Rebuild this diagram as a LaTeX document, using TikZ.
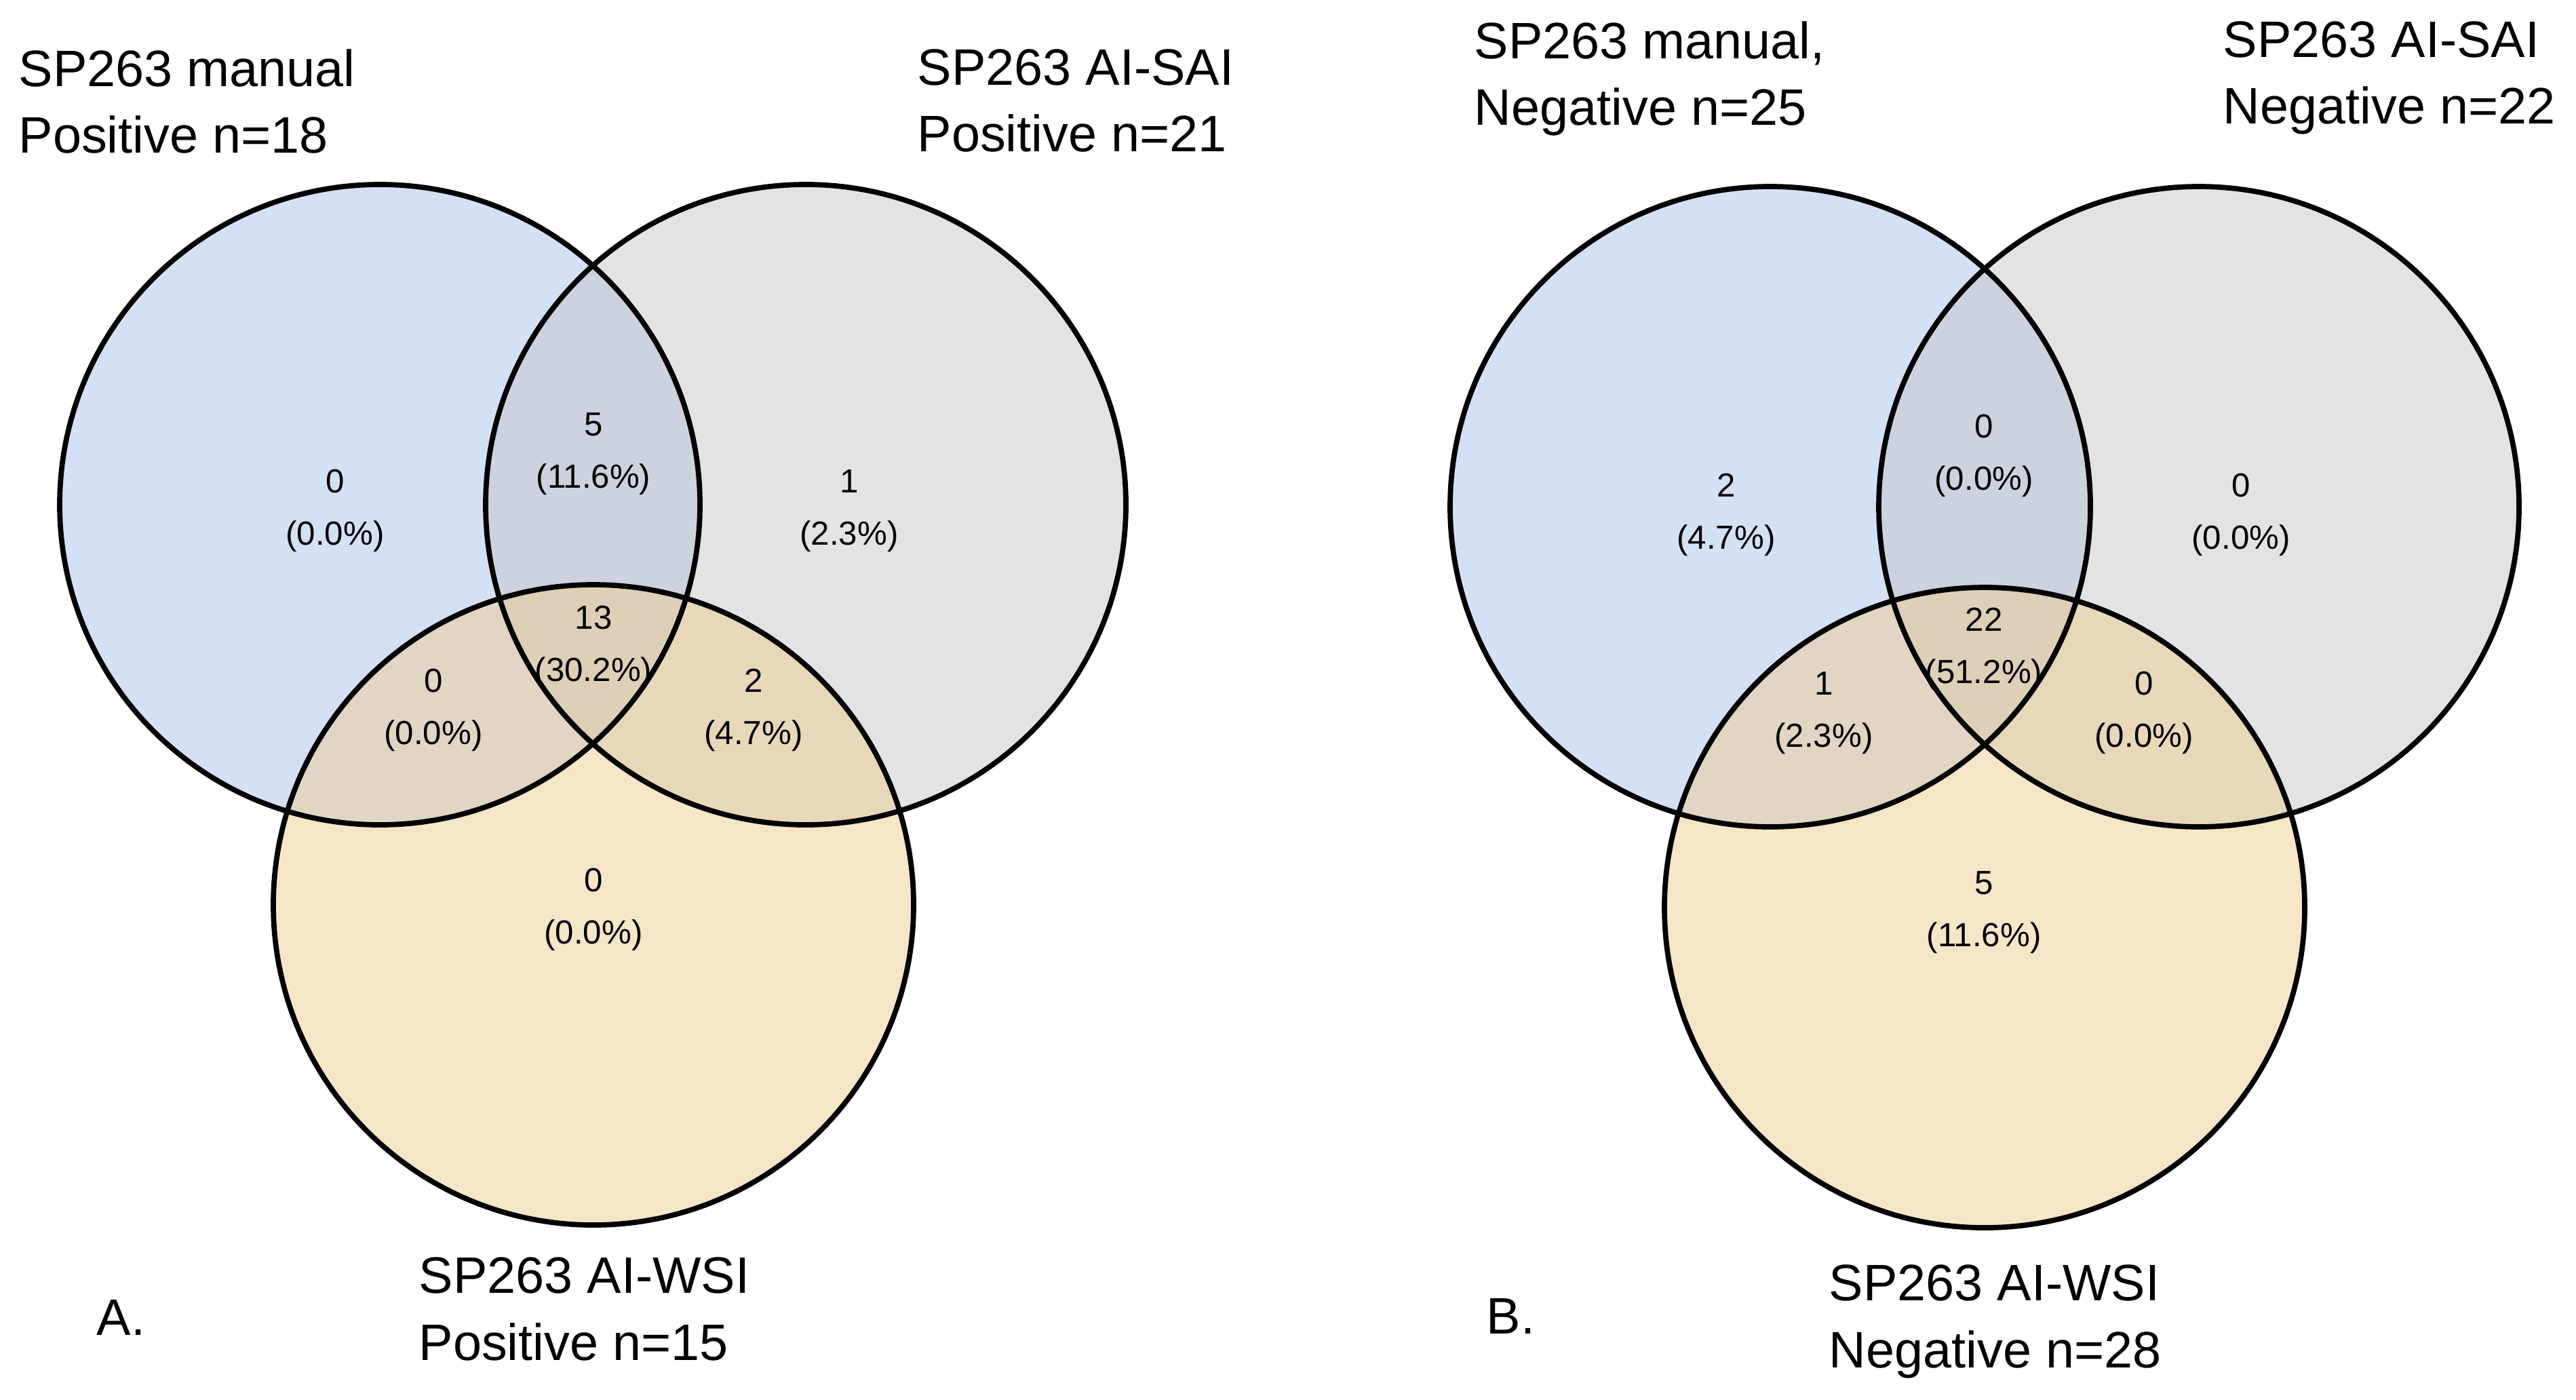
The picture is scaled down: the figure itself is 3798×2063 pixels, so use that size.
\documentclass[tikz,border=0pt]{standalone}
\usepackage{fontspec}
\setmainfont{Liberation Sans}
\definecolor{vennblue}{RGB}{169,195,235}
\definecolor{venngray}{RGB}{199,199,199}
\definecolor{vennyellow}{RGB}{237,205,145}
\begin{document}
\begin{tikzpicture}[x=0.01cm,y=-0.01cm]
\tikzstyle{every node}+=[inner sep=0pt]
\tikzstyle{count}=[align=center,font=\fontsize{14}{22}\selectfont]
\tikzstyle{setname}=[align=left,anchor=north west,font=\fontsize{21.5}{28}\selectfont]
\tikzstyle{panel}=[anchor=base west,font=\fontsize{21.5}{28}\selectfont]
\tikzstyle{rim}=[black,line width=2.2pt]
\useasboundingbox (0,0) rectangle (3798,2063);
% A. positive
\fill [vennblue,fill opacity=0.5] (560,744) circle (472);
\fill [venngray,fill opacity=0.5] (1188,744) circle (472);
\fill [vennyellow,fill opacity=0.5] (875,1334) circle (472);
\draw [rim] (560,744) circle (472);
\draw [rim] (1188,744) circle (472);
\draw [rim] (875,1334) circle (472);
\node [setname] (manA) at (27,72) {SP263 manual\\Positive n=18};
\node [setname] (saiA) at (1352,72) {SP263 AI-SAI\\Positive n=21};
\node [setname] (wsiA) at (617,1853) {SP263 AI-WSI\\Positive n=15};
\node [panel] (labA) at (142,1968) {A.};
\node [count] (a100) at (494,753) {0\\(0.0\%)};
\node [count] (a110) at (875,669) {5\\(11.6\%)};
\node [count] (a010) at (1252,753) {1\\(2.3\%)};
\node [count] (a111) at (875,954) {13\\(30.2\%)};
\node [count] (a101) at (639,1047) {0\\(0.0\%)};
\node [count] (a011) at (1111,1047) {2\\(4.7\%)};
\node [count] (a001) at (875,1341) {0\\(0.0\%)};
% B. negative
\fill [vennblue,fill opacity=0.5] (2610,747) circle (472);
\fill [venngray,fill opacity=0.5] (3242,747) circle (472);
\fill [vennyellow,fill opacity=0.5] (2926,1338) circle (472);
\draw [rim] (2610,747) circle (472);
\draw [rim] (3242,747) circle (472);
\draw [rim] (2926,1338) circle (472);
\node [setname] (manB) at (2173,31) {SP263 manual,\\Negative n=25};
\node [setname] (saiB) at (3277,31) {SP263 AI-SAI\\Negative n=22};
\node [setname] (wsiB) at (2696,1864) {SP263 AI-WSI\\Negative n=28};
\node [panel] (labB) at (2191,1966) {B.};
\node [count] (b100) at (2545,759) {2\\(4.7\%)};
\node [count] (b110) at (2925,672) {0\\(0.0\%)};
\node [count] (b010) at (3304,759) {0\\(0.0\%)};
\node [count] (b111) at (2925,957) {22\\(51.2\%)};
\node [count] (b101) at (2689,1051) {1\\(2.3\%)};
\node [count] (b011) at (3161,1051) {0\\(0.0\%)};
\node [count] (b001) at (2925,1345) {5\\(11.6\%)};
\end{tikzpicture}
\end{document}
